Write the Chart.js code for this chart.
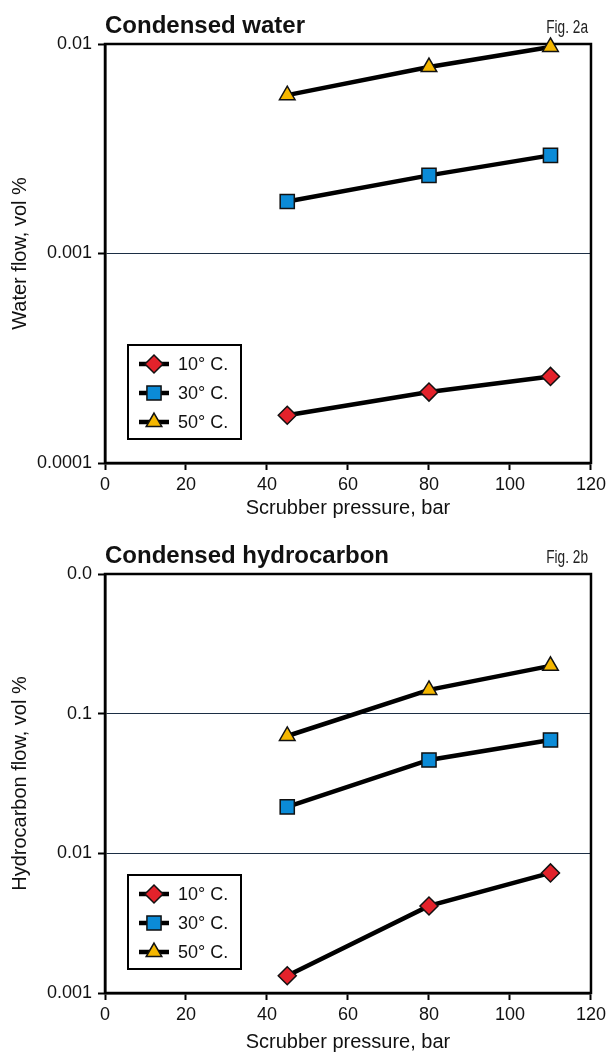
<!DOCTYPE html>
<html>
<head>
<meta charset="utf-8">
<script src="https://cdn.jsdelivr.net/npm/chart.js@4/dist/chart.umd.min.js"></script>
<style>
  html, body { margin: 0; padding: 0; background: #fff; }
  .box { position: absolute; left: 0; width: 610px; }
  #b1 { top: 0; height: 520px; }
  #b2 { top: 530px; height: 524px; }
</style>
</head>
<body>
<div class="box" id="b1"><canvas id="water" width="610" height="520"></canvas></div>
<div class="box" id="b2"><canvas id="hc" width="610" height="524"></canvas></div>
<script>
// values
const pressure = [45, 80, 110];
const seriesLabels = ['10° C.', '30° C.', '50° C.'];
const water10 = [0.000169, 0.000218, 0.000259];
const water30 = [0.00177, 0.00236, 0.00294];
const water50 = [0.0057, 0.00776, 0.00968];
const hc10 = [0.00133, 0.0042, 0.00724];
const hc30 = [0.0215, 0.0466, 0.0648];
const hc50 = [0.0692, 0.148, 0.220];
const xTicks = [0, 20, 40, 60, 80, 100, 120];
const waterTicks = [0.0001, 0.001, 0.01];
const waterTickLabels = ['0.0001', '0.001', '0.01'];
const hcTicks = [0.001, 0.01, 0.1, 1];
const hcTickLabels = ['0.001', '0.01', '0.1', '0.0'];

const FONT = "'Liberation Sans', Arial, sans-serif";
Chart.defaults.font.family = FONT;
Chart.defaults.font.size = 18;
Chart.defaults.color = '#111';

const styles = [
  { pointStyle: 'rectRot',  color: '#e3222b', r: 9 },
  { pointStyle: 'rect',     color: '#0b8bd7', r: 10 },
  { pointStyle: 'triangle', color: '#f5b700', r: 9 }
];

function mkSets(lists){
  return lists.map((vals, i) => ({
    label: seriesLabels[i],
    data: pressure.map((p, k) => ({ x: p, y: vals[k] })),
    borderColor: '#000', borderWidth: 4.5,
    pointStyle: styles[i].pointStyle, pointRadius: styles[i].r,
    pointBackgroundColor: styles[i].color, pointBorderColor: '#111', pointBorderWidth: 1.5,
    pointHoverRadius: styles[i].r, clip: false, tension: 0
  }));
}

function marker(ctx, st, x, y){
  ctx.save();
  ctx.fillStyle = st.color; ctx.strokeStyle = '#111'; ctx.lineWidth = 1.5;
  if (Chart.helpers && Chart.helpers.drawPoint) {
    Chart.helpers.drawPoint(ctx, { pointStyle: st.pointStyle, radius: st.r, rotation: 0, borderWidth: 1.5 }, x, y);
  } else {
    ctx.beginPath();
    const r = st.r;
    if (st.pointStyle === 'rectRot') { ctx.moveTo(x, y - r); ctx.lineTo(x + r, y); ctx.lineTo(x, y + r); ctx.lineTo(x - r, y); }
    else if (st.pointStyle === 'rect') { const s = r * Math.SQRT1_2; ctx.rect(x - s, y - s, 2 * s, 2 * s); }
    else { ctx.moveTo(x, y - r); ctx.lineTo(x + r * 0.866, y + r / 2); ctx.lineTo(x - r * 0.866, y + r / 2); }
    ctx.closePath(); ctx.fill(); ctx.stroke();
  }
  ctx.restore();
}

const decor = {
  id: 'decor',
  beforeDatasetsDraw(chart, args, o){
    const { ctx, chartArea: a } = chart;
    ctx.save();
    ctx.strokeStyle = '#000'; ctx.lineWidth = 2.5;
    ctx.strokeRect(a.left, a.top, a.right - a.left, a.bottom - a.top);
    ctx.restore();
  },
  afterDatasetsDraw(chart, args, o){
    const { ctx, chartArea: a } = chart;
    ctx.save();
    // title
    ctx.fillStyle = '#111';
    ctx.textBaseline = 'alphabetic';
    ctx.textAlign = 'left';
    ctx.font = 'bold 24px ' + FONT;
    ctx.fillText(o.title, a.left, a.top - 11);
    // fig label, a bit condensed
    ctx.save();
    ctx.translate(a.right - 3, a.top - 11);
    ctx.scale(0.76, 1);
    ctx.textAlign = 'right';
    ctx.font = '18px ' + FONT;
    ctx.fillStyle = '#222';
    ctx.fillText(o.fig, 0, 0);
    ctx.restore();
    // legend box
    const lx = a.left + 23, ly = a.bottom - 118, lw = 113, lh = 94;
    ctx.fillStyle = '#fff';
    ctx.fillRect(lx, ly, lw, lh);
    ctx.strokeStyle = '#000'; ctx.lineWidth = 2;
    ctx.strokeRect(lx, ly, lw, lh);
    styles.forEach((st, i) => {
      const y = ly + 19 + i * 29;
      ctx.strokeStyle = '#000'; ctx.lineWidth = 4.5;
      ctx.beginPath(); ctx.moveTo(lx + 11, y); ctx.lineTo(lx + 41, y); ctx.stroke();
      marker(ctx, st, lx + 26, y);
      ctx.fillStyle = '#111';
      ctx.font = '18px ' + FONT;
      ctx.textAlign = 'left'; ctx.textBaseline = 'middle';
      ctx.fillText(seriesLabels[i], lx + 50, y + 1);
    });
    ctx.restore();
  }
};

function makeChart(id, lists, yTicks, yLabels, yTitle, title, fig, xH){
  const yMin = yTicks[0], yMax = yTicks[yTicks.length - 1];
  return new Chart(document.getElementById(id), {
    type: 'line',
    data: { datasets: mkSets(lists) },
    options: {
      responsive: false, animation: false,
      layout: { padding: { top: 44, right: 17, left: 0, bottom: 0 } },
      plugins: { legend: { display: false }, tooltip: { enabled: false }, decor: { title, fig } },
      scales: {
        x: {
          type: 'linear', min: 0, max: 120,
          afterBuildTicks: s => { s.ticks = xTicks.map(v => ({ value: v })); },
          afterFit: s => { s.height = xH; },
          ticks: { padding: 4, maxRotation: 0, autoSkip: false, color: '#111' },
          grid: { drawOnChartArea: false, drawTicks: true, tickLength: 7, tickWidth: 2, tickColor: '#000' },
          border: { display: true, color: '#000', width: 2.5 },
          title: { display: true, text: 'Scrubber pressure, bar', font: { size: 20 }, padding: { top: 0, bottom: 0 }, color: '#111' }
        },
        y: {
          type: 'logarithmic', min: yMin, max: yMax,
          afterBuildTicks: s => { s.ticks = yTicks.map(v => ({ value: v })); },
          afterFit: s => { s.width = 105; },
          ticks: { padding: 6, autoSkip: false, color: '#111', callback: (v, i) => yLabels[i] },
          grid: {
            drawOnChartArea: true, drawTicks: true, tickLength: 7, tickWidth: 2, tickColor: '#000', lineWidth: 1,
            color: c => (c.tick && (c.tick.value === yMin || c.tick.value === yMax)) ? 'rgba(0,0,0,0)' : '#1c2e44'
          },
          border: { display: true, color: '#000', width: 2.5 },
          title: { display: true, text: yTitle, font: { size: 20 }, padding: { top: 8, bottom: 0 }, color: '#111' }
        }
      }
    },
    plugins: [decor]
  });
}

makeChart('water', [water10, water30, water50], waterTicks, waterTickLabels,
  'Water flow, vol %', 'Condensed water', 'Fig. 2a', 57);
makeChart('hc', [hc10, hc30, hc50], hcTicks, hcTickLabels,
  'Hydrocarbon flow, vol %', 'Condensed hydrocarbon', 'Fig. 2b', 61);
</script>
</body>
</html>
